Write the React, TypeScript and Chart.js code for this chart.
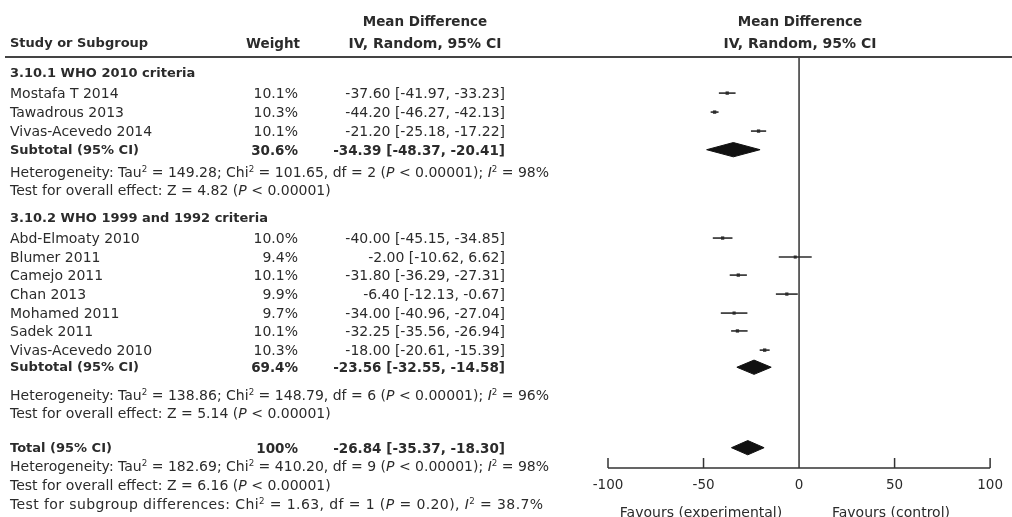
import React, { useEffect, useRef, useState } from 'react';
import { Chart, registerables } from 'chart.js';

Chart.register(...registerables);

// ---------- data ----------
const group1Title = '3.10.1 WHO 2010 criteria';
const group2Title = '3.10.2 WHO 1999 and 1992 criteria';

const studies1 = ['Mostafa T 2014', 'Tawadrous 2013', 'Vivas-Acevedo 2014'];
const weights1 = [10.1, 10.3, 10.1];
const md1 = [-37.6, -44.2, -21.2];
const lo1 = [-41.97, -46.27, -25.18];
const hi1 = [-33.23, -42.13, -17.22];

const studies2 = ['Abd-Elmoaty 2010', 'Blumer 2011', 'Camejo 2011', 'Chan 2013', 'Mohamed 2011', 'Sadek 2011', 'Vivas-Acevedo 2010'];
const weights2 = [10.0, 9.4, 10.1, 9.9, 9.7, 10.1, 10.3];
const md2 = [-40.0, -2.0, -31.8, -6.4, -34.0, -32.25, -18.0];
const lo2 = [-45.15, -10.62, -36.29, -12.13, -40.96, -35.56, -20.61];
const hi2 = [-34.85, 6.62, -27.31, -0.67, -27.04, -26.94, -15.39];

const summaryLabels = ['Subtotal (95% CI)', 'Subtotal (95% CI)', 'Total (95% CI)'];
const summaryWeights = [30.6, 69.4, 100];
const summaryMd = [-34.39, -23.56, -26.84];
const summaryLo = [-48.37, -32.55, -35.37];
const summaryHi = [-20.41, -14.58, -18.3];

const hetTau2 = ['149.28', '138.86', '182.69'];
const hetChi2 = ['101.65', '148.79', '410.20'];
const hetDf = [2, 6, 9];
const hetI2 = ['98%', '96%', '98%'];
const overallZ = ['4.82', '5.14', '6.16'];
const subgroupChi2 = '1.63';
const subgroupDf = 1;
const subgroupP = '0.20';
const subgroupI2 = '38.7%';

const xTicks = [-100, -50, 0, 50, 100];
const favoursLeft = 'Favours (experimental)';
const favoursRight = 'Favours (control)';

// ---------- layout (row positions in row units) ----------
const ROW_G1 = 0.85;
const ROWS_S1 = [1.92, 2.93, 3.94];
const ROW_SUB1 = 4.93;
const ROW_HET1 = 6.12;
const ROW_Z1 = 7.07;
const ROW_G2 = 8.56;
const ROWS_S2 = [9.63, 10.64, 11.6, 12.61, 13.62, 14.57, 15.59];
const ROW_SUB2 = 16.5;
const ROW_HET2 = 17.98;
const ROW_Z2 = 18.94;
const ROW_TOT = 20.78;
const ROW_HETT = 21.76;
const ROW_ZT = 22.77;
const ROW_SUBG = 23.78;
const Y_MAX = 21.86;
const DIAMOND_HALF = 0.38;

const FONT = '"DejaVu Sans", sans-serif';
const FS = 14;
const FS_BOLD_LABEL = 13;
const FS_BOLD_NUM = 13.5;
const INK = '#2b2b2b';

const fmt = (v: number) => v.toFixed(2);
const fmtW = (w: number) => (w === 100 ? '100%' : w.toFixed(1) + '%');
const ci = (m: number, l: number, h: number) => `${fmt(m)} [${fmt(l)}, ${fmt(h)}]`;

const Sup = ({ children }: any) => (
  <sup style={{ fontSize: '0.62em', lineHeight: 0, verticalAlign: '0.6em' }}>{children}</sup>
);

export default function App() {
  const canvasRef = useRef<HTMLCanvasElement>(null);
  const [map, setMap] = useState<{ top: number; unit: number }>({ top: 57, unit: 18.8 });

  useEffect(() => {
    if (!canvasRef.current) return;
    const datasets: any[] = [];
    const allMd = [...md1, ...md2];
    const allLo = [...lo1, ...lo2];
    const allHi = [...hi1, ...hi2];
    const allW = [...weights1, ...weights2];
    const allRows = [...ROWS_S1, ...ROWS_S2];
    allMd.forEach((m, i) => {
      datasets.push({
        type: 'line',
        data: [
          { x: allLo[i], y: allRows[i] },
          { x: allHi[i], y: allRows[i] },
        ],
        borderColor: INK,
        borderWidth: 1.6,
        pointRadius: 0,
        fill: false,
      });
    });
    datasets.push({
      type: 'scatter',
      data: allMd.map((m, i) => ({ x: m, y: allRows[i] })),
      pointStyle: 'rect',
      pointRadius: allW.map((w) => w * 0.23),
      backgroundColor: INK,
      borderColor: INK,
      borderWidth: 0,
    });
    const sumRows = [ROW_SUB1, ROW_SUB2, ROW_TOT];
    summaryMd.forEach((m, i) => {
      const r = sumRows[i];
      datasets.push({
        type: 'line',
        data: [
          { x: summaryLo[i], y: r },
          { x: m, y: r - DIAMOND_HALF },
          { x: summaryHi[i], y: r },
          { x: m, y: r + DIAMOND_HALF },
          { x: summaryLo[i], y: r },
        ],
        borderColor: '#111',
        backgroundColor: '#111',
        borderWidth: 1,
        pointRadius: 0,
        fill: 'shape',
        tension: 0,
      });
    });

    const axisPlugin = {
      id: 'forestAxis',
      beforeDatasetsDraw(chart: any) {
        const { ctx, chartArea, scales } = chart;
        const x = scales.x;
        ctx.save();
        ctx.strokeStyle = '#333';
        ctx.lineWidth = 1.5;
        ctx.beginPath();
        const x0 = x.getPixelForValue(0);
        ctx.moveTo(x0, chartArea.top);
        ctx.lineTo(x0, chartArea.bottom);
        ctx.moveTo(x.getPixelForValue(xTicks[0]), chartArea.bottom);
        ctx.lineTo(x.getPixelForValue(xTicks[xTicks.length - 1]), chartArea.bottom);
        xTicks.forEach((t) => {
          const px = x.getPixelForValue(t);
          ctx.moveTo(px, chartArea.bottom);
          ctx.lineTo(px, chartArea.bottom - 10);
        });
        ctx.stroke();
        ctx.restore();
      },
    };

    const chart = new Chart(canvasRef.current, {
      type: 'line',
      data: { datasets },
      options: {
        animation: false,
        responsive: false,
        layout: { padding: { left: 608, right: 20, top: 57, bottom: 0 } },
        plugins: { legend: { display: false }, tooltip: { enabled: false } },
        scales: {
          x: {
            type: 'linear',
            min: -100,
            max: 100,
            afterFit: (s: any) => {
              s.height = 49;
            },
            afterBuildTicks: (s: any) => {
              s.ticks = xTicks.map((v) => ({ value: v }));
            },
            ticks: {
              font: { family: FONT, size: 13.5 },
              color: INK,
              padding: 9,
              maxRotation: 0,
              autoSkip: false,
            },
            grid: { display: false, drawTicks: false },
            border: { display: false },
          },
          y: {
            type: 'linear',
            display: false,
            reverse: true,
            min: 0,
            max: Y_MAX,
          },
        },
      },
      plugins: [axisPlugin],
    } as any);

    const ys = chart.scales.y;
    const top = ys.getPixelForValue(0);
    const unit = ys.getPixelForValue(1) - top;
    setMap({ top, unit });

    return () => chart.destroy();
  }, []);

  const py = (v: number) => map.top + v * map.unit;

  const rowStyle = (v: number, extra: any = {}) => ({
    position: 'absolute' as const,
    top: py(v) - 9,
    height: 18,
    lineHeight: '18px',
    whiteSpace: 'nowrap' as const,
    ...extra,
  });

  const boldLabel = { fontWeight: 'bold', fontSize: FS_BOLD_LABEL };
  const boldNum = { fontWeight: 'bold', fontSize: FS_BOLD_NUM };

  const nameCol = (v: number, text: any, bold = false, extra: any = {}) => (
    <div style={rowStyle(v, { left: 10, ...(bold ? boldLabel : {}), ...extra })}>{text}</div>
  );
  const weightCol = (v: number, text: string, bold = false) => (
    <div style={rowStyle(v, { left: 200, width: 98, textAlign: 'right', ...(bold ? boldNum : {}) })}>{text}</div>
  );
  const ciCol = (v: number, text: string, bold = false) => (
    <div style={rowStyle(v, { left: 300, width: 205, textAlign: 'right', ...(bold ? boldNum : {}) })}>{text}</div>
  );

  const het = (i: number) => (
    <>
      Heterogeneity: Tau<Sup>2</Sup> = {hetTau2[i]}; Chi<Sup>2</Sup> = {hetChi2[i]}, df = {hetDf[i]} (<i>P</i> &lt; 0.00001); <i>I</i>
      <Sup>2</Sup> = {hetI2[i]}
    </>
  );
  const zTxt = (i: number) => (
    <>
      Test for overall effect: Z = {overallZ[i]} (<i>P</i> &lt; 0.00001)
    </>
  );

  const headerBase = {
    position: 'absolute' as const,
    height: 18,
    lineHeight: '18px',
    whiteSpace: 'nowrap' as const,
    fontWeight: 'bold' as const,
    fontSize: 13.5,
  };

  return (
    <div
      style={{
        position: 'absolute',
        left: 0,
        top: 0,
        width: 1012,
        height: 517,
        overflow: 'hidden',
        background: '#fff',
        fontFamily: FONT,
        fontSize: FS,
        color: INK,
      }}
    >
      <canvas ref={canvasRef} width={1012} height={517} style={{ position: 'absolute', left: 0, top: 0 }} />

      {/* headers */}
      <div style={{ ...headerBase, left: 10, top: 34, fontSize: 13 }}>Study or Subgroup</div>
      <div style={{ ...headerBase, left: 200, width: 100, textAlign: 'right', top: 34 }}>Weight</div>
      <div style={{ ...headerBase, left: 325, width: 200, textAlign: 'center', top: 12 }}>Mean Difference</div>
      <div style={{ ...headerBase, left: 325, width: 200, textAlign: 'center', top: 34, fontSize: 14 }}>IV, Random, 95% CI</div>
      <div style={{ ...headerBase, left: 700, width: 200, textAlign: 'center', top: 12 }}>Mean Difference</div>
      <div style={{ ...headerBase, left: 700, width: 200, textAlign: 'center', top: 34, fontSize: 14 }}>IV, Random, 95% CI</div>
      <div style={{ position: 'absolute', left: 5, top: 56, width: 1007, height: 2, background: '#444' }} />

      {/* group 1 */}
      {nameCol(ROW_G1, group1Title, true)}
      {studies1.map((s, i) => (
        <React.Fragment key={'a' + i}>
          {nameCol(ROWS_S1[i], s)}
          {weightCol(ROWS_S1[i], fmtW(weights1[i]))}
          {ciCol(ROWS_S1[i], ci(md1[i], lo1[i], hi1[i]))}
        </React.Fragment>
      ))}
      {nameCol(ROW_SUB1, summaryLabels[0], true)}
      {weightCol(ROW_SUB1, fmtW(summaryWeights[0]), true)}
      {ciCol(ROW_SUB1, ci(summaryMd[0], summaryLo[0], summaryHi[0]), true)}
      {nameCol(ROW_HET1, het(0))}
      {nameCol(ROW_Z1, zTxt(0))}

      {/* group 2 */}
      {nameCol(ROW_G2, group2Title, true)}
      {studies2.map((s, i) => (
        <React.Fragment key={'b' + i}>
          {nameCol(ROWS_S2[i], s)}
          {weightCol(ROWS_S2[i], fmtW(weights2[i]))}
          {ciCol(ROWS_S2[i], ci(md2[i], lo2[i], hi2[i]))}
        </React.Fragment>
      ))}
      {nameCol(ROW_SUB2, summaryLabels[1], true)}
      {weightCol(ROW_SUB2, fmtW(summaryWeights[1]), true)}
      {ciCol(ROW_SUB2, ci(summaryMd[1], summaryLo[1], summaryHi[1]), true)}
      {nameCol(ROW_HET2, het(1))}
      {nameCol(ROW_Z2, zTxt(1))}

      {/* total */}
      {nameCol(ROW_TOT, summaryLabels[2], true)}
      {weightCol(ROW_TOT, fmtW(summaryWeights[2]), true)}
      {ciCol(ROW_TOT, ci(summaryMd[2], summaryLo[2], summaryHi[2]), true)}
      {nameCol(ROW_HETT, het(2))}
      {nameCol(ROW_ZT, zTxt(2))}
      {nameCol(
        ROW_SUBG,
        <>
          Test for subgroup differences: Chi<Sup>2</Sup> = {subgroupChi2}, df = {subgroupDf} (<i>P</i> = {subgroupP}), <i>I</i>
          <Sup>2</Sup> = {subgroupI2}
        </>,
        false,
        { letterSpacing: '0.4px' }
      )}

      {/* favours labels */}
      <div style={{ position: 'absolute', left: 601, width: 200, textAlign: 'center', top: 503, lineHeight: '18px', whiteSpace: 'nowrap' }}>
        {favoursLeft}
      </div>
      <div style={{ position: 'absolute', left: 791, width: 200, textAlign: 'center', top: 503, lineHeight: '18px', whiteSpace: 'nowrap' }}>
        {favoursRight}
      </div>
    </div>
  );
}
